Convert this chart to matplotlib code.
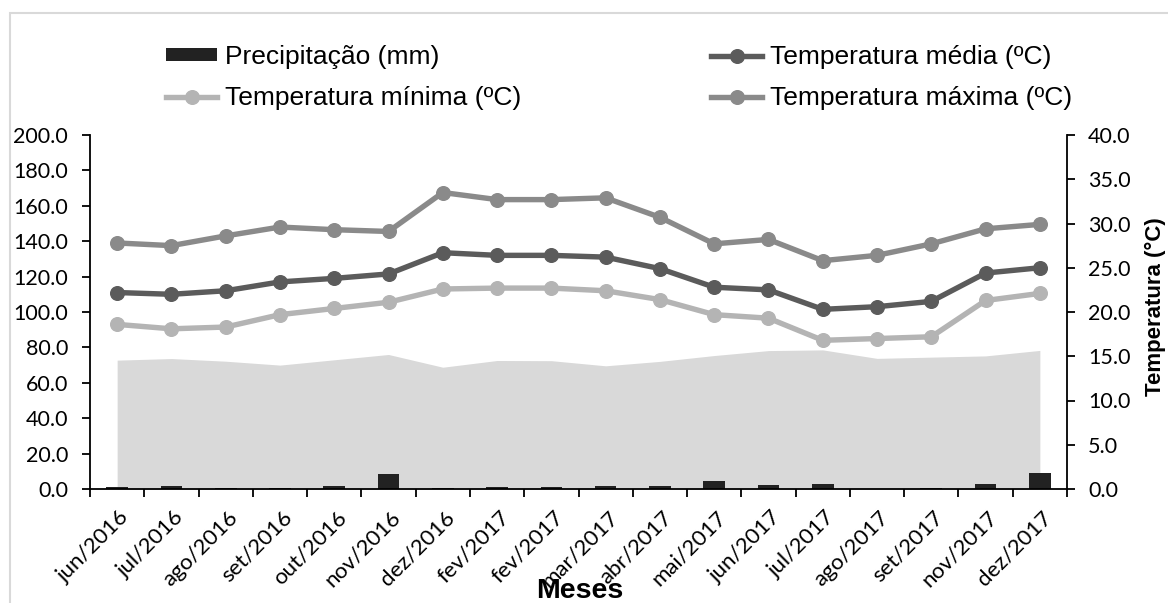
import matplotlib
matplotlib.use("Agg")
import matplotlib.pyplot as plt
import numpy as np
from matplotlib.lines import Line2D
from matplotlib.patches import Patch, Rectangle
from matplotlib.transforms import ScaledTranslation

meses = ['jun/2016', 'jul/2016', 'ago/2016', 'set/2016', 'out/2016', 'nov/2016',
         'dez/2016', 'fev/2017', 'fev/2017', 'mar/2017', 'abr/2017', 'mai/2017',
         'jun/2017', 'jul/2017', 'ago/2017', 'set/2017', 'nov/2017', 'dez/2017']
precipitacao = [1.1, 1.9, 0.5, 0.5, 1.7, 8.4, 0.5, 1.3, 1.3, 1.7, 1.7, 4.4,
                2.1, 2.8, 0.2, 0.5, 2.8, 8.9]
area_fundo = [72.8, 73.7, 72.2, 70.0, 73.0, 76.0, 68.8, 72.6, 72.5, 69.6, 72.1, 75.4,
              78.2, 78.6, 73.8, 74.5, 75.2, 78.3]
temp_max = [27.8, 27.5, 28.6, 29.6, 29.3, 29.1, 33.5, 32.7, 32.7, 32.9, 30.7, 27.7,
            28.2, 25.8, 26.4, 27.7, 29.4, 29.9]
temp_med = [22.2, 22.0, 22.4, 23.4, 23.8, 24.3, 26.7, 26.4, 26.4, 26.2, 24.9, 22.8,
            22.5, 20.3, 20.6, 21.2, 24.4, 25.0]
temp_min = [18.6, 18.1, 18.3, 19.7, 20.4, 21.1, 22.6, 22.7, 22.7, 22.4, 21.4, 19.7,
            19.3, 16.8, 17.0, 17.2, 21.3, 22.1]
left_ticks = [0, 20, 40, 60, 80, 100, 120, 140, 160, 180, 200]
right_ticks = [0, 5, 10, 15, 20, 25, 30, 35, 40]

C_BAR = '#222222'
C_AREA = '#d9d9d9'
C_MAX = '#8a8a8a'
C_MED = '#5b5b5b'
C_MIN = '#b4b4b4'

tick_font = 'Lato'
arial = 'Liberation Sans'
LW = 3.9
MS = 9.8

fig = plt.figure(figsize=(11.68, 6.03), dpi=100)
fig.add_artist(Rectangle((10 / 1168, -0.5), 2.0, 1 - 13 / 603 + 0.5, transform=fig.transFigure,
                         fill=False, edgecolor='#d9d9d9', linewidth=1.5))

ax = fig.add_axes([90 / 1168, 1 - 489 / 603, (1067 - 90) / 1168, (489 - 135) / 603])
x = np.arange(len(meses))

ax.fill_between(x, 0, area_fundo, color=C_AREA, linewidth=0, zorder=1)
ax.bar(x, precipitacao, width=0.4, color=C_BAR, zorder=2)
ax.set_xlim(-0.5, len(meses) - 0.5)
ax.set_ylim(0, 200)
ax.set_yticks(left_ticks)
ax.set_yticklabels([f'{v:.1f}' for v in left_ticks], fontsize=15.5, family=tick_font)
ax.set_xticks(np.arange(-0.5, len(meses), 1.0))
ax.set_xticklabels([])
ax.set_xticks(x, minor=True)
ax.set_xticklabels(meses, minor=True, rotation=45, ha='right', va='center',
                   rotation_mode='anchor', fontsize=16, family=tick_font)
ax.tick_params(axis='x', which='minor', length=0, pad=18)
ax.tick_params(axis='x', which='major', length=5.8, width=1.3, direction='out')
ax.tick_params(axis='y', length=5.8, width=1.3, direction='out', pad=10)
for s in ['top', 'right']:
    ax.spines[s].set_visible(False)
for s in ['left', 'bottom']:
    ax.spines[s].set_linewidth(1.3)
shift = ScaledTranslation(9 / 100, 0, fig.dpi_scale_trans)
for lab in ax.get_xticklabels(minor=True):
    lab.set_transform(lab.get_transform() + shift)

ax2 = ax.twinx()
ax2.set_ylim(0, 40)
ax2.set_yticks(right_ticks)
ax2.set_yticklabels([f'{v:.1f}' for v in right_ticks], fontsize=15.5, family=tick_font)
ax2.tick_params(axis='y', length=5.8, width=1.3, direction='out', pad=9.4)
for s in ['top', 'left', 'bottom']:
    ax2.spines[s].set_visible(False)
ax2.spines['right'].set_linewidth(1.3)

kw = dict(linewidth=LW, marker='o', markersize=MS, solid_capstyle='round')
ax2.plot(x, temp_min, color=C_MIN, **kw, zorder=3)
ax2.plot(x, temp_med, color=C_MED, **kw, zorder=4)
ax2.plot(x, temp_max, color=C_MAX, **kw, zorder=5)

ax2.set_ylabel('Temperatura (°C)', fontsize=16, fontweight='bold', family=arial)
ax2.yaxis.set_label_coords(1.0795, 0.514)
fig.text(580 / 1168, 1 - 591 / 603, 'Meses', fontsize=20.5, fontweight='bold', family=arial,
         ha='center', va='center')

h_pr = Patch(facecolor=C_BAR, edgecolor='none')
h_min = Line2D([], [], color=C_MIN, linewidth=LW, marker='o', markersize=MS)
h_med = Line2D([], [], color=C_MED, linewidth=LW, marker='o', markersize=MS)
h_max = Line2D([], [], color=C_MAX, linewidth=LW, marker='o', markersize=MS)
leg_kw = dict(frameon=False, prop={'family': arial, 'size': 19}, handlelength=1.95,
              handleheight=0.38, handletextpad=0.3, labelspacing=0.64,
              borderaxespad=0, borderpad=0, loc='upper left')
leg1 = fig.legend([h_pr, h_min], ['Precipitação (mm)', 'Temperatura mínima (ºC)'],
                  bbox_to_anchor=(166 / 1168, 1 - 45 / 603), **leg_kw)
leg2 = fig.legend([h_med, h_max], ['Temperatura média (ºC)', 'Temperatura máxima (ºC)'],
                  bbox_to_anchor=(711 / 1168, 1 - 45 / 603), **leg_kw)

fig.savefig('out.png', dpi=100)
